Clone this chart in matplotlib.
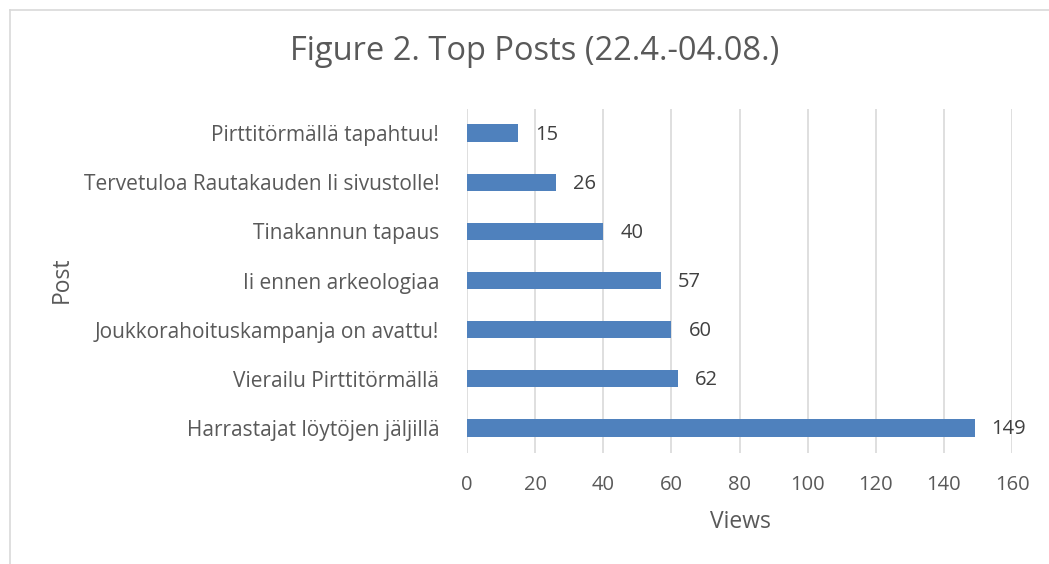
import matplotlib
matplotlib.use("Agg")
import matplotlib.pyplot as plt
from matplotlib.lines import Line2D

categories = [
    "Harrastajat löytöjen jäljillä",
    "Vierailu Pirttitörmällä",
    "Joukkorahoituskampanja on avattu!",
    "Ii ennen arkeologiaa",
    "Tinakannun tapaus",
    "Tervetuloa Rautakauden Ii sivustolle!",
    "Pirttitörmällä tapahtuu!",
]
views = [149, 62, 60, 57, 40, 26, 15]
xticks = [0, 20, 40, 60, 80, 100, 120, 140, 160]
title = "Figure 2. Top Posts (22.4.-04.08.)"

plt.rcParams['font.family'] = ['Open Sans', 'DejaVu Sans']
TXT = "#595959"
W, H = 1049, 564
fig = plt.figure(figsize=(W/100, H/100), dpi=100)
ax = fig.add_axes([467/W, 1-452.5/H, (1012-467)/W, (452.5-108.5)/H])

y = list(range(len(categories)))
ax.barh(y, views, height=0.35, color="#4F81BD", zorder=3)
for yi, v in zip(y, views):
    ax.text(v + 5, yi - 0.03, str(v), va="center", ha="left", fontsize=14.5, color="#404040")

ax.set_xlim(0, 160)
ax.set_ylim(-0.5, len(categories) - 0.5)
ax.set_xticks(xticks)
ax.set_xticklabels([str(t) for t in xticks], fontsize=14.5, color=TXT)
ax.set_yticks(y)
ax.set_yticklabels(categories, fontsize=15, color=TXT)
ax.tick_params(axis="both", length=0)
ax.tick_params(axis="x", pad=16)
ax.tick_params(axis="y", pad=20)
ax.grid(axis="x", color="#D9D9D9", linewidth=1.2, zorder=0)
for s in ax.spines.values():
    s.set_visible(False)

fig.text(535/W, 1-52/H, title, ha="center", va="center", fontsize=23.5, color=TXT)
fig.text(62/W, 1-280/H, "Post", ha="center", va="center", rotation=90, fontsize=16.5, color=TXT)
fig.text(740/W, 1-522/H, "Views", ha="center", va="center", fontsize=16.5, color=TXT)

fig.add_artist(Line2D([10/W, 10/W], [0, 1-10/H], transform=fig.transFigure, color="#D9D9D9", lw=1.2))
fig.add_artist(Line2D([10/W, 1], [1-10/H, 1-10/H], transform=fig.transFigure, color="#D9D9D9", lw=1.2))

fig.savefig("out.png", dpi=100)
